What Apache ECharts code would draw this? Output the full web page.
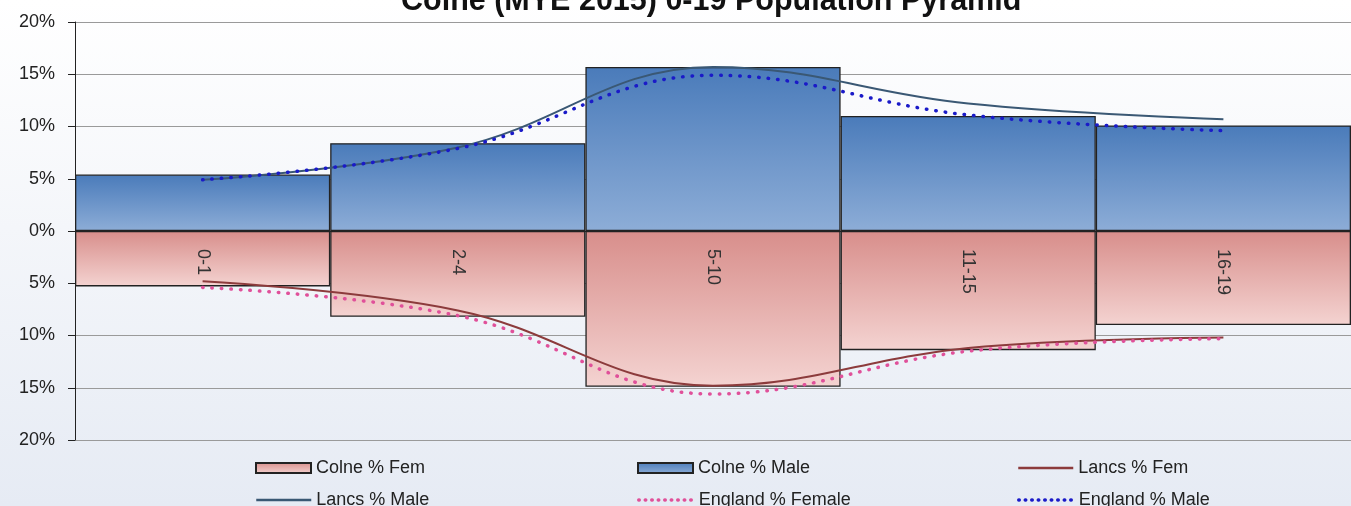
<!DOCTYPE html>
<html>
<head>
<meta charset="utf-8">
<script src="https://cdn.jsdelivr.net/npm/echarts@6/dist/echarts.min.js"></script>
<style>
  html, body { margin: 0; padding: 0; }
  #chart {
    width: 1351px; height: 506px;
    background: linear-gradient(to bottom, #ffffff 0%, #f4f6fa 45%, #e6ebf4 100%);
  }
</style>
</head>
<body>
<div id="chart"></div>
<script>
// 年龄段
const ageGroups = ['0-1', '2-4', '5-10', '11-15', '16-19'];
// Colne (柱)
const colneMale = [5.4, 8.4, 15.7, 11.0, 10.1];
const colneFem = [5.3, 8.2, 14.9, 11.4, 9.0];
// Lancs (实线)
const lancsMale = [4.9, 8.0, 15.7, 12.2, 10.7];
const lancsFem = [4.8, 7.6, 14.8, 11.2, 10.2];
// England (点线)
const englandMale = [4.9, 7.9, 14.9, 11.1, 9.6];
const englandFem = [5.4, 8.1, 15.6, 11.5, 10.3];
// y 轴
const yMin = -20, yMax = 20, yStep = 5;

const chart = echarts.init(document.getElementById('chart'));

const font = 'Liberation Sans, Arial, sans-serif';
const neg = arr => arr.map(v => -v);

const maleFill = new echarts.graphic.LinearGradient(0, 0, 0, 1, [
  { offset: 0, color: '#4a7bba' },
  { offset: 1, color: '#8dadd7' }
]);
const femFill = new echarts.graphic.LinearGradient(0, 0, 0, 1, [
  { offset: 0, color: '#d88e8b' },
  { offset: 1, color: '#f4d3d1' }
]);

// 图例: 每项单独放置 (三列两行)
function legendItem (name, left, top, kind) {
  let item
  if (kind === 'bar') {
    item = { name: name, icon: 'rect' }
  } else if (kind === 'dot') {
    item = { name: name, itemStyle: { opacity: 0 }, lineStyle: { width: 3.5, type: [0.5, 6], cap: 'round' } }
  } else {
    item = { name: name, itemStyle: { opacity: 0 }, lineStyle: { width: 2.5 } }
  }
  return {
    left: left,
    top: top,
    itemWidth: 55,
    itemHeight: 10,
    selectedMode: false,
    data: [item],
    textStyle: { fontFamily: font, fontSize: 18, color: '#222' }
  };
}

chart.setOption({
  animation: false,
  title: {
    text: 'Colne (MYE 2015) 0-19 Population Pyramid',
    left: 396,
    top: -19,
    textStyle: { fontFamily: font, fontSize: 30.5, fontWeight: 'bold', color: '#111' }
  },
  legend: [
    legendItem('Colne % Fem', 250, 454, 'bar'),
    legendItem('Lancs % Male', 250, 486, 'line'),
    legendItem('Colne % Male', 632, 454, 'bar'),
    legendItem('England % Female', 632, 486, 'dot'),
    legendItem('Lancs % Fem', 1012, 454, 'line'),
    legendItem('England % Male', 1012, 486, 'dot')
  ],
  grid: { left: 75, right: -7, top: 22, bottom: 66 },
  xAxis: {
    type: 'category',
    data: ageGroups,
    offset: -209,
    axisTick: { show: false },
    axisLine: { onZero: false, lineStyle: { color: '#222', width: 1 } },
    axisLabel: {
      rotate: -90,
      margin: 18,
      fontFamily: font,
      fontSize: 18,
      color: '#333'
    },
    z: 10
  },
  yAxis: {
    type: 'value',
    min: yMin,
    max: yMax,
    interval: yStep,
    axisLine: { show: true, lineStyle: { color: '#222' } },
    axisTick: { show: true, length: 7, lineStyle: { color: '#222' } },
    splitLine: { show: true, lineStyle: { color: '#9a9a9a' } },
    axisLabel: {
      margin: 20,
      fontFamily: font,
      fontSize: 18,
      color: '#222',
      formatter: v => Math.abs(v) + '%'
    }
  },
  series: [
    {
      name: 'Colne % Fem',
      type: 'bar',
      stack: 'pop',
      barCategoryGap: 0,
      data: neg(colneFem),
      itemStyle: { color: femFill, borderColor: '#222', borderWidth: 1.3 }
    },
    {
      name: 'Colne % Male',
      type: 'bar',
      stack: 'pop',
      barCategoryGap: 0,
      data: colneMale,
      itemStyle: { color: maleFill, borderColor: '#222', borderWidth: 1.3 }
    },
    {
      name: 'Lancs % Fem',
      type: 'line',
      smooth: 0.4,
      symbol: 'none',
      data: neg(lancsFem),
      lineStyle: { color: '#8c3b3c', width: 2 },
      itemStyle: { color: '#8c3b3c' },
      z: 5
    },
    {
      name: 'Lancs % Male',
      type: 'line',
      smooth: 0.4,
      symbol: 'none',
      data: lancsMale,
      lineStyle: { color: '#3a5874', width: 2 },
      itemStyle: { color: '#3a5874' },
      z: 5
    },
    {
      name: 'England % Female',
      type: 'line',
      smooth: 0.4,
      symbol: 'none',
      data: neg(englandFem),
      lineStyle: { color: '#e0509a', width: 3.5, type: [0.5, 9], cap: 'round' },
      itemStyle: { color: '#e0509a' },
      z: 6
    },
    {
      name: 'England % Male',
      type: 'line',
      smooth: 0.4,
      symbol: 'none',
      data: englandMale,
      lineStyle: { color: '#1a1ac8', width: 3.5, type: [0.5, 9], cap: 'round' },
      itemStyle: { color: '#1a1ac8' },
      z: 6
    }
  ]
});
</script>
</body>
</html>
